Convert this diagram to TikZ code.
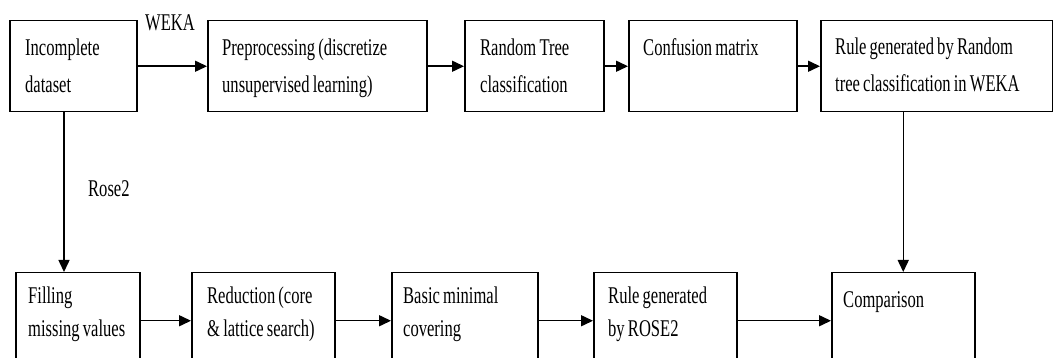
\documentclass[tikz,border=0pt]{standalone}
\usepackage{fontspec}
\setmainfont[FakeStretch=0.69]{Liberation Serif}
\usetikzlibrary{arrows.meta,calc}
\newcommand\mytightspace{\spaceskip=3.2pt plus 1pt minus 0.5pt\relax}
\begin{document}
\begin{tikzpicture}[x=1pt,y=-1pt,
  box/.style={draw=black, line width=1.5pt, anchor=north west, inner sep=0pt, fill=none},
  arr/.style={draw=black, line width=1.5pt, -{Triangle[length=12pt,width=11pt]}},
  lbltop/.style={anchor=base west, inner sep=0pt, align=left, text width=260pt, font=\fontsize{24}{37}\selectfont, execute at begin node=\mytightspace},
  lblbot/.style={anchor=base west, inner sep=0pt, align=left, text width=260pt, font=\fontsize{24}{33}\selectfont, execute at begin node=\mytightspace},
  flowlbl/.style={anchor=base west, inner sep=0pt, font=\fontsize{24}{25}\selectfont}]
\useasboundingbox (0,0) rectangle (1053,358);
\fill[white] (0,0) rectangle (1053,358);
\clip (0,0) rectangle (1053,358);
% top row
\node[box, minimum width=127pt, minimum height=91pt] (b1) at (9,20) {};
\node[box, minimum width=219pt, minimum height=91pt] (b2) at (207,20) {};
\node[box, minimum width=139pt, minimum height=91pt] (b3) at (464,20) {};
\node[box, minimum width=168pt, minimum height=91pt] (b4) at (628,20) {};
\node[box, minimum width=232pt, minimum height=91pt] (b5) at (820,20) {};
% bottom row
\node[box, minimum width=124pt, minimum height=96pt] (c1) at (15,272) {};
\node[box, minimum width=143pt, minimum height=96pt] (c2) at (191,272) {};
\node[box, minimum width=146pt, minimum height=96pt] (c3) at (391,272) {};
\node[box, minimum width=143pt, minimum height=96pt] (c4) at (593,272) {};
\node[box, minimum width=143pt, minimum height=96pt] (c5) at (831,272) {};
% texts
\node[lbltop] (t1) at ($(b1.north west)+(16,36)$) {Incomplete\\dataset};
\node[lbltop] (t2) at ($(b2.north west)+(15,36)$) {Preprocessing (discretize\\unsupervised learning)};
\node[lbltop] (t3) at ($(b3.north west)+(16,36)$) {Random Tree\\classification};
\node[lbltop] (t4) at ($(b4.north west)+(15,36)$) {Confusion matrix};
\node[lbltop] (t5) at ($(b5.north west)+(15,35)$) {Rule generated by Random\\tree classification in WEKA};
\node[lblbot] (u1) at ($(c1.north west)+(13,32)$) {Filling\\missing values};
\node[lblbot] (u2) at ($(c2.north west)+(16,32)$) {Reduction (core\\\& lattice search)};
\node[lblbot] (u3) at ($(c3.north west)+(12,32)$) {Basic minimal\\covering};
\node[lblbot] (u4) at ($(c4.north west)+(15,32)$) {Rule generated\\by ROSE2};
\node[lblbot] (u5) at ($(c5.north west)+(12,36)$) {Comparison};
% connectors
\draw[arr] (b1) -- (b2);
\draw[arr] (b2) -- (b3);
\draw[arr] (b3) -- (b4);
\draw[arr] (b4) -- (b5);
\draw[arr] (c1) -- (c2);
\draw[arr] (c2) -- (c3);
\draw[arr] (c3) -- (c4);
\draw[arr] (c4) -- (c5);
\coordinate (v1) at (64,0);
\draw[arr] (b1.south -| v1) -- (c1.north -| v1);
\draw[arr] (b5.south -| c5.north) -- (c5.north);
% flow labels
\node[flowlbl] (weka) at (145,31) {WEKA};
\node[flowlbl] (rose) at (88,197) {Rose2};
\end{tikzpicture}
\end{document}
